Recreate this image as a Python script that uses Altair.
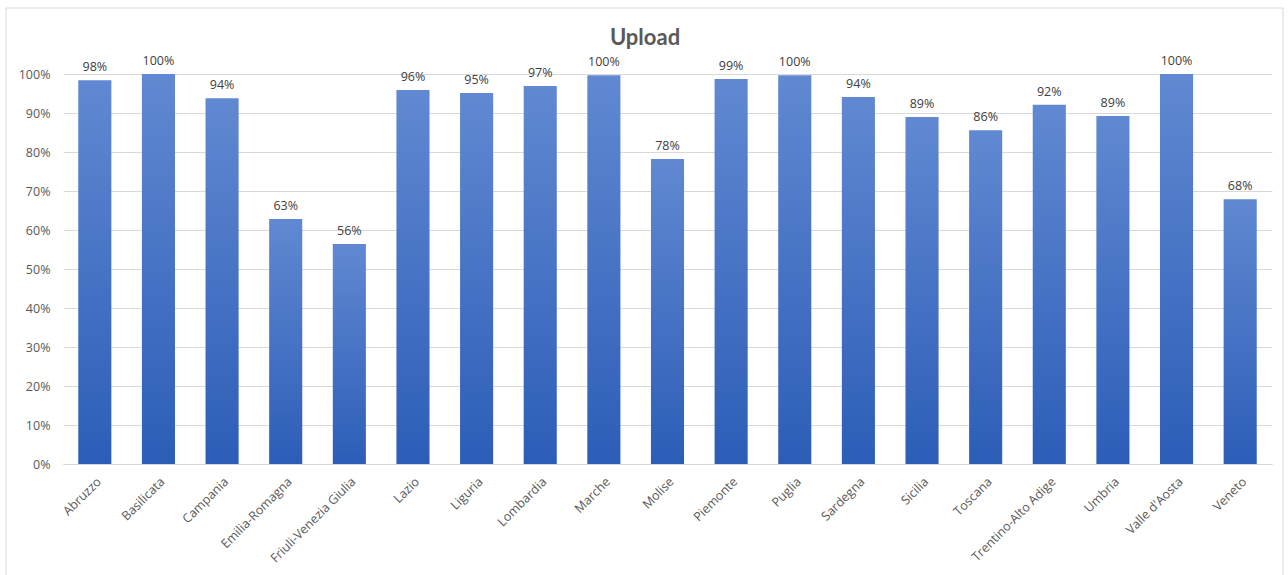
import altair as alt
import pandas as pd

regions = ["Abruzzo", "Basilicata", "Campania", "Emilia-Romagna", "Friuli-Venezia Giulia",
           "Lazio", "Liguria", "Lombardia", "Marche", "Molise", "Piemonte", "Puglia",
           "Sardegna", "Sicilia", "Toscana", "Trentino-Alto Adige", "Umbria",
           "Valle d'Aosta", "Veneto"]
upload = [0.984, 1.0, 0.938, 0.628, 0.564, 0.959, 0.951, 0.969, 0.997, 0.782, 0.987,
          0.997, 0.941, 0.890, 0.856, 0.921, 0.892, 1.0, 0.679]
y_ticks = [0, 0.1, 0.2, 0.3, 0.4, 0.5, 0.6, 0.7, 0.8, 0.9, 1.0]
title_text = "Upload"

df = pd.DataFrame({"region": regions, "value": upload})

FONT = "Open Sans"
GREY = "#595959"

grad = alt.Gradient(
    gradient="linear",
    stops=[alt.GradientStop(color="#6189d2", offset=0),
           alt.GradientStop(color="#2c5db7", offset=1)],
    x1=0, x2=0, y1=0, y2=1,
)

x = alt.X("region:N", sort=regions, title=None,
          scale=alt.Scale(paddingInner=0.48, paddingOuter=0.24),
          axis=alt.Axis(labelAngle=-45, labelFontSize=12.5, labelColor=GREY, labelFont=FONT,
                        ticks=False, domainColor="#d9d9d9", labelPadding=11))
y = alt.Y("value:Q", title=None,
          scale=alt.Scale(domain=[0, 1], nice=False),
          axis=alt.Axis(format=".0%", values=y_ticks, labelFontSize=12.5,
                        labelColor=GREY, labelFont=FONT, ticks=False, domain=False,
                        gridColor="#d9d9d9", labelPadding=13, labelOverlap=False))

base = alt.Chart(df)
bars = base.mark_bar(color=grad).encode(x=x, y=y)
labels = base.mark_text(baseline="bottom", dy=-6, fontSize=12.5, color="#404040", font=FONT).encode(
    x=x,
    y=y,
    text=alt.Text("value:Q", format=".0%"),
)
border = alt.Chart(pd.DataFrame({"a": [0]})).mark_rect(fill=None, stroke="#d9d9d9", strokeWidth=1).encode(
    x=alt.value(-57), x2=alt.value(1220), y=alt.value(-66), y2=alt.value(520)
)
title = alt.Chart(pd.DataFrame({"t": [title_text]})).mark_text(
    fontSize=22, font="Lato", fontWeight="bold", color=GREY, baseline="middle", align="center"
).encode(x=alt.value(582), y=alt.value(-36), text="t:N")

chart = alt.layer(border, bars, labels, title).properties(
    width=1209, height=390,
    autosize=alt.AutoSizeParams(type="none"),
    padding={"left": 63, "top": 74, "right": 16, "bottom": 111},
).configure_view(stroke=None)

chart.save("out.html", embed_options={"renderer": "svg", "actions": False})
